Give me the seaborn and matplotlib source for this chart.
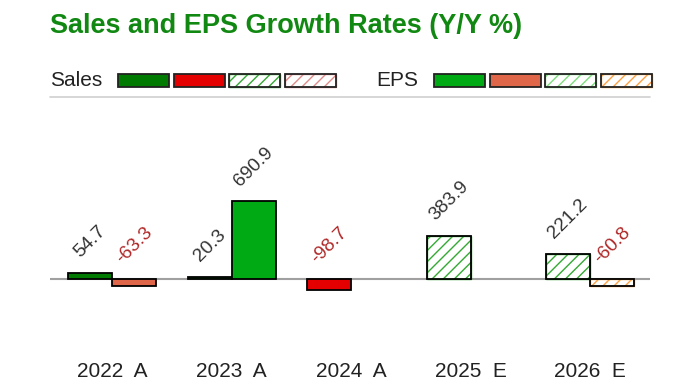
import numpy as np
import pandas as pd
import matplotlib
matplotlib.use("Agg")
import matplotlib.pyplot as plt
import seaborn as sns
from matplotlib.patches import Rectangle

# ---- data ----
years = ["2022  A", "2023  A", "2024  A", "2025  E", "2026  E"]
sales = [54.7, 20.3, -98.7, 383.9, 221.2]
eps = [-63.3, 690.9, np.nan, np.nan, -60.8]
estimate = [False, False, False, True, True]

sales_colors = {"pos": "#007a00", "neg": "#e40000", "epos": "#33aa33", "eneg": "#e08a8a"}
eps_colors = {"pos": "#00aa14", "neg": "#e0664a", "epos": "#7ede7e", "eneg": "#ffa040"}

df = pd.DataFrame({
    "year": years * 2,
    "series": ["Sales"] * len(years) + ["EPS"] * len(years),
    "value": sales + eps,
})

sns.set_theme(style="white")
plt.rcParams["font.family"] = ["Liberation Sans", "DejaVu Sans"]
plt.rcParams["hatch.linewidth"] = 1.0

W, H = 700, 387
fig = plt.figure(figsize=(W / 100, H / 100), dpi=100)
ax_l, ax_r, ax_t, ax_b = 50, 650, 100, 355
ax = fig.add_axes([ax_l / W, 1 - ax_b / H, (ax_r - ax_l) / W, (ax_b - ax_t) / H])

sns.barplot(data=df, x="year", y="value", hue="series", hue_order=["Sales", "EPS"],
            order=years, width=0.736, ax=ax, legend=False, errorbar=None)

ax.set_xlim(-0.52, 4.50)
ax.set_ylim(-675, 1590)

HATCH = "///"

# style bars
for p in list(ax.patches):
    h = p.get_height()
    if np.isnan(h):
        continue
    cx = p.get_x() + p.get_width() / 2
    i = int(round(cx))
    is_sales = cx < i
    v = sales[i] if is_sales else eps[i]
    cmap = sales_colors if is_sales else eps_colors
    key = ("e" if estimate[i] else "") + ("pos" if v >= 0 else "neg")
    col = cmap[key]
    if estimate[i]:
        p.set_facecolor("white")
        p.set_edgecolor(col)
        p.set_hatch(HATCH)
        p.set_linewidth(1.0)
        ax.add_patch(Rectangle((p.get_x(), p.get_y()), p.get_width(), p.get_height(),
                               fill=False, edgecolor="black", linewidth=1.3, zorder=p.get_zorder() + 0.1))
    else:
        p.set_facecolor(col)
        p.set_edgecolor("black")
        p.set_linewidth(1.3)
    ax.annotate(f"{v:.1f}", xy=(cx, max(v, 0)), xytext=(0, 8.5), textcoords="offset points",
                ha="center", va="bottom", rotation=45, fontsize=13.8,
                color="#333333" if v >= 0 else "#b02828")

ax.axhline(0, color="#a0a0a0", linewidth=1.5, zorder=0.5)
for s in ax.spines.values():
    s.set_visible(False)
ax.set_yticks([])
ax.set_xlabel("")
ax.set_ylabel("")
ax.tick_params(axis="x", length=0, pad=5, labelsize=15, labelcolor="#222222")

# title
fig.text(50 / W, 1 - 33 / H, "Sales and EPS Growth Rates (Y/Y %)", fontsize=19.5, fontweight="bold",
         color="#118811", ha="left", va="baseline")

# legend row
ly_top, ly_h = 74, 13
def legend_patch(x, key, cmap, hatch):
    col = cmap[key]
    y = 1 - (ly_top + ly_h) / H
    if hatch:
        fig.patches.append(Rectangle((x / W, y), 51 / W, ly_h / H, transform=fig.transFigure,
                                     facecolor="white", edgecolor=col, hatch=HATCH, linewidth=1.0))
        fig.patches.append(Rectangle((x / W, y), 51 / W, ly_h / H, transform=fig.transFigure,
                                     fill=False, edgecolor="#222222", linewidth=1.3))
    else:
        fig.patches.append(Rectangle((x / W, y), 51 / W, ly_h / H, transform=fig.transFigure,
                                     facecolor=col, edgecolor="#222222", linewidth=1.3))

fig.text(50 / W, 1 - 86.5 / H, "Sales", fontsize=15, color="#222222", ha="left", va="baseline")
for j, (key, hatch) in enumerate([("pos", False), ("neg", False), ("epos", True), ("eneg", True)]):
    legend_patch(118 + j * 55.5, key, sales_colors, hatch)
fig.text(376 / W, 1 - 86.5 / H, "EPS", fontsize=15, color="#222222", ha="left", va="baseline")
for j, (key, hatch) in enumerate([("pos", False), ("neg", False), ("epos", True), ("eneg", True)]):
    legend_patch(434 + j * 55.5, key, eps_colors, hatch)

# separator line under legend
fig.add_artist(plt.Line2D([50 / W, 650 / W], [1 - 97 / H, 1 - 97 / H], transform=fig.transFigure,
                          color="#d0d0d0", linewidth=1.2))

fig.savefig("out.png", dpi=100)
